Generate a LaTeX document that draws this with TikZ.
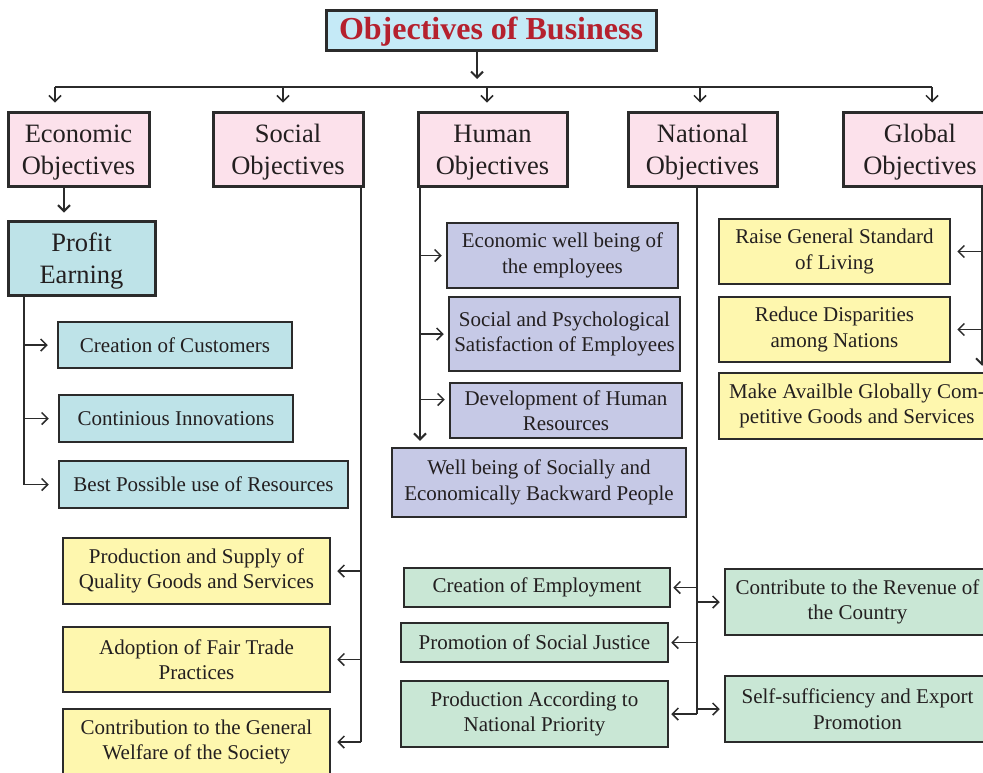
\documentclass[tikz,border=0pt]{standalone}
\usepackage{fontspec}
\setmainfont{Liberation Serif}
\usetikzlibrary{arrows.meta}
\definecolor{tblue}{HTML}{C5EAF7}
\definecolor{tred}{HTML}{B5212E}
\definecolor{pink}{HTML}{FCE1EB}
\definecolor{cyanb}{HTML}{BEE3E8}
\definecolor{lav}{HTML}{C6C9E6}
\definecolor{yel}{HTML}{FEF7AE}
\definecolor{grn}{HTML}{C9E7D5}
\definecolor{bd}{HTML}{2B2B2B}
\definecolor{txt}{HTML}{231F20}
\newcommand{\lowstrut}{\rule{0pt}{24pt}}
\begin{document}
\begin{tikzpicture}[x=1pt,y=-1pt,
  box/.style={draw=bd, line width=2.5pt, inner sep=0pt, align=center, text=txt,
    font=\fontsize{21}{25.5}\selectfont},
  big/.style={box, line width=3pt, font=\fontsize{26.5}{32}\selectfont},
  wh/.style 2 args={minimum width=#1pt, minimum height=#2pt},
  conn/.style={draw=bd, line width=2pt},
  arr/.style={draw=bd, line width=1.5pt, -{Straight Barb[length=6pt,width=12pt]}}]
\useasboundingbox (0,0) rectangle (983,772);

% title
\node[box, line width=3pt, fill=tblue, wh={330}{40}, text=tred,
  font=\fontsize{32}{38}\selectfont\bfseries] (title) at (491,30) {\rule{0pt}{26pt}Objectives of Business};

% level 1
\node[big, fill=pink, wh={141}{74}] (eco) at (78.5,149) {\lowstrut Economic\\Objectives};
\node[big, fill=pink, wh={150}{74}] (soc) at (288,149) {\lowstrut Social\\Objectives};
\node[big, fill=pink, wh={149}{74}] (hum) at (492.5,149) {\lowstrut Human\\Objectives};
\node[big, fill=pink, wh={149}{74}] (nat) at (702.5,149) {\lowstrut National\\Objectives};
\node[big, fill=pink, wh={154}{74}] (glo) at (920,149) {\lowstrut Global\\Objectives};

% economic
\node[big, fill=cyanb, wh={147}{74}] (profit) at (81.5,258) {\lowstrut Profit\\Earning};
\node[box, fill=cyanb, wh={234}{46}] (cust) at (175,345) {Creation of Customers};
\node[box, fill=cyanb, wh={234}{47}] (innov) at (176,418.5) {Continious Innovations};
\node[box, fill=cyanb, wh={289}{47}] (best) at (203.5,484.5) {Best Possible use of Resources};

% social
\node[box, fill=yel, wh={267}{66}] (prod) at (196.5,571) {Production and Supply of\\Quality Goods and Services};
\node[box, fill=yel, wh={267}{65}] (fair) at (196.5,659.5) {Adoption of Fair Trade\\Practices};
\node[box, fill=yel, wh={267}{66}] (contrib) at (196.5,742) {Contribution to the General\\Welfare of the Society};

% human
\node[box, fill=lav, wh={231}{65}] (econwb) at (562.5,255.5) {Economic well being of\\the employees};
\node[box, fill=lav, wh={231}{74}] (socpsy) at (564.5,334) {Social and Psychological\\Satisfaction of Employees};
\node[box, fill=lav, wh={232}{55}] (devhr) at (566,410.5) {Development of Human\\Resources};
\node[box, fill=lav, wh={294}{69}] (wellb) at (539,482.5) {Well being of Socially and\\Economically Backward People};

% global
\node[box, fill=yel, wh={231}{65}] (raise) at (834.5,251.5) {Raise General Standard\\of Living};
\node[box, fill=yel, wh={231}{65}] (reduce) at (834.5,329.5) {Reduce Disparities\\among Nations};
\node[box, fill=yel, wh={276}{66}] (make) at (857,406) {Make Availble Globally Com-\\petitive Goods and Services};

% national
\node[box, fill=grn, wh={266}{39}] (employ) at (537,587.5) {Creation of Employment};
\node[box, fill=grn, wh={267}{39}] (justice) at (534.5,642.5) {Promotion of Social Justice};
\node[box, fill=grn, wh={267}{66}] (natprio) at (534.5,714) {Production According to\\National Priority};
\node[box, fill=grn, wh={265}{66}] (revenue) at (857.5,602) {Contribute to the Revenue of\\the Country};
\node[box, fill=grn, wh={265}{66}] (selfsuf) at (857.5,709) {Self-sufficiency and Export\\Promotion};

% bus
\coordinate (bus) at (477,87);
\coordinate (xE) at (55,0);
\coordinate (xS) at (283,0);
\coordinate (xH) at (487,0);
\coordinate (xN) at (700,0);
\coordinate (xG) at (932,0);
\draw[conn] (xE |- bus) -- (xG |- bus);
\draw[arr, line width=2pt] (title.south -| bus) -- ([yshift=8pt]bus);
\foreach \c/\n in {xE/eco,xS/soc,xH/hum,xN/nat,xG/glo}
  \draw[arr, shorten >=8pt] (\c |- bus) -- (\c |- \n.north);

% economic
\coordinate (xP) at (64,0);
\draw[arr, line width=2pt, shorten >=7pt] (xP |- eco.south) -- (xP |- profit.north);
\coordinate (sP) at (24,0);
\draw[conn] (sP |- profit.south) -- (sP |- best.west);
\foreach \n in {cust,innov,best}
  \draw[arr, shorten >=9pt] (sP |- \n.west) -- (\n.west);

% social
\coordinate (sS) at (361,0);
\draw[conn] (sS |- soc.south) -- (sS |- contrib.east);
\foreach \n in {prod,fair,contrib}
  \draw[arr, shorten >=6pt] (sS |- \n.east) -- (\n.east);

% human
\coordinate (sH) at (420,0);
\draw[arr, line width=2pt, shorten >=6pt] (sH |- hum.south) -- (sH |- wellb.north);
\coordinate (devA) at ([yshift=11pt]devhr.west);
\foreach \n in {econwb.west,socpsy.west,devA}
  \draw[arr, shorten >=4pt] (sH |- \n) -- (\n);

% national
\coordinate (sN) at (697,0);
\draw[conn] (sN |- nat.south) -- (sN |- natprio.east);
\foreach \n in {employ,justice,natprio}
  \draw[arr, shorten >=2pt] (sN |- \n.east) -- (\n.east);
\foreach \n in {revenue,selfsuf}
  \draw[arr, shorten >=4pt] (sN |- \n.west) -- (\n.west);

% global
\coordinate (sG) at (982,0);
\draw[arr, line width=2pt, shorten >=6pt] (sG |- glo.south) -- (sG |- make.north);
\foreach \n in {raise,reduce}
  \draw[arr, shorten >=6pt] (sG |- \n.east) -- (\n.east);
\end{tikzpicture}
\end{document}
